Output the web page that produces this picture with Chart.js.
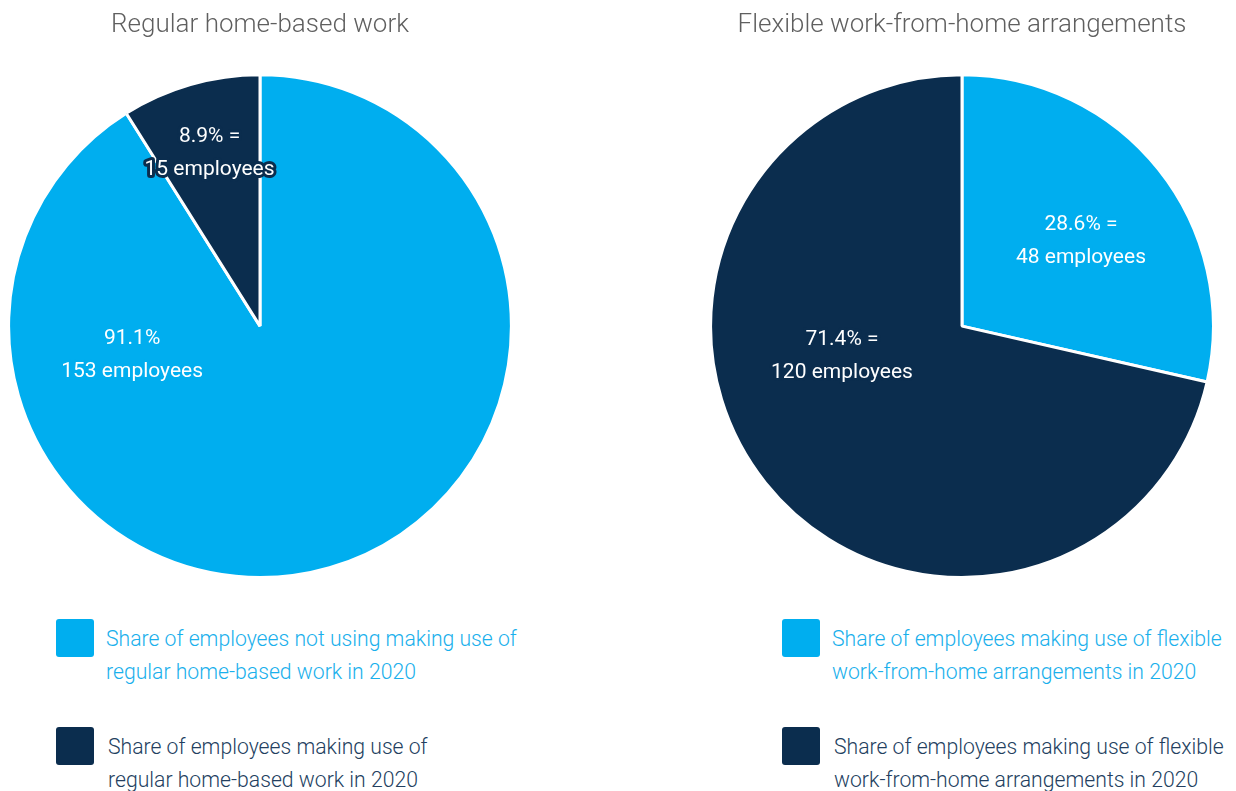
<!DOCTYPE html>
<html>
<head>
<meta charset="utf-8">
<script src="https://cdn.jsdelivr.net/npm/chart.js@4"></script>
<style>
  body { margin: 0; background: #fff; font-family: Roboto, sans-serif; }
  #wrap { position: relative; width: 1236px; height: 791px; overflow: hidden; }
  .pie { position: absolute; top: 0; width: 506px; height: 579px; }
  .legend { position: absolute; font-family: 'Roboto Light', Roboto, sans-serif; font-weight: 300; font-size: 21.2px; line-height: 33px; }
  .item { position: absolute; white-space: nowrap; }
  .sw { position: absolute; left: 0; width: 38px; height: 38px; border-radius: 3px; }
  .txt { position: absolute; }
</style>
</head>
<body>
<div id="wrap">
  <div class="pie" style="left:7px"><canvas id="c1"></canvas></div>
  <div class="pie" style="left:709px"><canvas id="c2"></canvas></div>
  <div class="legend" id="lg1" style="left:56px; top:620px"></div>
  <div class="legend" id="lg2" style="left:782px; top:620px"></div>
</div>
<script>
// data
const regularTitle = 'Regular home-based work';
const regularLabels = [
  ['Share of employees not using making use of', 'regular home-based work in 2020'],
  ['Share of employees making use of', 'regular home-based work in 2020']
];
const regularValues = [153, 15];
const regularSep = ['', ' ='];

const flexTitle = 'Flexible work-from-home arrangements';
const flexLabels = [
  ['Share of employees making use of flexible', 'work-from-home arrangements in 2020'],
  ['Share of employees making use of flexible', 'work-from-home arrangements in 2020']
];
const flexValues = [48, 120];
const flexSep = [' =', ' ='];

const colors = ['#00aeef', '#0b2d4e'];
const legendText = ['#1ab0ec', '#243f5f'];

// label placement: deg = angle from top (null = slice middle), r = fraction of radius
const placeRegular = [{ deg: 258, r: 0.52 }, { deg: null, r: 0.725 }];
const placeFlex = [{ deg: 54, r: 0.585 }, { deg: 257, r: 0.49 }];

const sliceLabels = {
  id: 'sliceLabels',
  afterDatasetsDraw(chart, args, opts) {
    const ctx = chart.ctx;
    const ds = chart.data.datasets[0];
    const total = ds.data.reduce((a, b) => a + b, 0);
    chart.getDatasetMeta(0).data.forEach((arc, i) => {
      const p = arc.getProps(['x', 'y', 'startAngle', 'endAngle', 'outerRadius'], true);
      const pl = opts.place[i];
      const ang = pl.deg === null ? (p.startAngle + p.endAngle) / 2 : (pl.deg - 90) * Math.PI / 180;
      const cx = p.x + Math.cos(ang) * p.outerRadius * pl.r;
      const cy = p.y + Math.sin(ang) * p.outerRadius * pl.r + 2;
      const v = ds.data[i];
      const lines = [(v / total * 100).toFixed(1) + '%' + opts.sep[i], v + ' employees'];
      ctx.save();
      ctx.font = '400 21px Roboto';
      ctx.textAlign = 'center';
      ctx.textBaseline = 'middle';
      ctx.lineJoin = 'round';
      ctx.lineWidth = 6;
      ctx.strokeStyle = colors[i];
      lines.forEach((t, k) => {
        const y = cy + (k - 0.5) * 33;
        ctx.strokeText(t, cx, y);
        ctx.fillStyle = '#ffffff';
        ctx.fillText(t, cx, y);
      });
      ctx.restore();
    });
  }
};

function makePie(id, title, labels, values, sep, place) {
  return new Chart(document.getElementById(id), {
    type: 'pie',
    data: {
      labels: labels.map(l => l.join(' ')),
      datasets: [{
        data: values,
        backgroundColor: colors,
        borderColor: '#ffffff',
        borderWidth: 3
      }]
    },
    options: {
      responsive: false,
      animation: false,
      devicePixelRatio: 1,
      layout: { padding: 0 },
      plugins: {
        legend: { display: false },
        tooltip: { enabled: false },
        title: {
          display: true,
          text: title,
          color: '#5f5f5f',
          font: { family: "'Roboto Light', Roboto", size: 26, weight: 300 },
          padding: { top: 9, bottom: 33 }
        },
        sliceLabels: { sep: sep, place: place }
      }
    },
    plugins: [sliceLabels]
  });
}

function makeLegend(id, labels) {
  const el = document.getElementById(id);
  labels.forEach((lines, i) => {
    const it = document.createElement('div');
    it.className = 'item';
    it.style.top = (i * 108) + 'px';
    const sw = document.createElement('div');
    sw.className = 'sw';
    sw.style.top = '-1px';
    sw.style.background = colors[i];
    const tx = document.createElement('div');
    tx.className = 'txt';
    tx.style.left = (50 + i * 2) + 'px';
    tx.style.top = '2px';
    tx.style.color = legendText[i];
    tx.innerHTML = lines.join('<br>');
    it.appendChild(sw);
    it.appendChild(tx);
    el.appendChild(it);
  });
}

for (const id of ['c1', 'c2']) {
  const c = document.getElementById(id);
  c.width = 506; c.height = 579;
  c.style.width = '506px'; c.style.height = '579px';
}
makePie('c1', regularTitle, regularLabels, regularValues, regularSep, placeRegular);
makePie('c2', flexTitle, flexLabels, flexValues, flexSep, placeFlex);
makeLegend('lg1', regularLabels);
makeLegend('lg2', flexLabels);
</script>
</body>
</html>
